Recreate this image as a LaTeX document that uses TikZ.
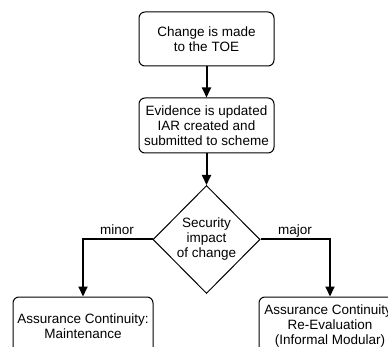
\documentclass[tikz,border=0pt]{standalone}
\usepackage{fontspec}
\setmainfont{Liberation Sans}
\usetikzlibrary{shapes.geometric,arrows.meta}
\begin{document}
\begin{tikzpicture}[x=1pt,y=-1pt,
  every node/.style={font=\fontsize{13.5}{15}\selectfont, align=center},
  procbox/.style={draw, line width=1pt, rounded corners=6pt, inner sep=0pt},
  decision/.style={draw, line width=1pt, diamond, inner sep=0pt, minimum width=107pt, minimum height=108pt},
  flow/.style={line width=2pt, -{Triangle[length=10pt,width=9pt]}},
  lbl/.style={anchor=base, inner sep=0pt}]
  \useasboundingbox (0,0) rectangle (388,347);
  \clip (0,0) rectangle (388,347);
  \fill[white] (0,0) rectangle (388,347);

  % process steps
  \node[procbox, minimum width=135pt, minimum height=54pt] (change) at (206.5,39) {Change is made\\to the TOE};
  \node[procbox, minimum width=135pt, minimum height=55pt] (evidence) at (206.5,125.5) {Evidence is updated\\IAR created and\\submitted to scheme};
  \node[decision] (impact) at (206.5,239.5) {Security\\impact\\of change};
  \node[procbox, minimum width=140pt, minimum height=58pt] (maint) at (83,326) {Assurance Continuity:\\Maintenance};
  \node[procbox, minimum width=142pt, minimum height=58pt] (reeval) at (330,326) {Assurance Continuity:\\Re-Evaluation\\(Informal Modular)};

  % connectors
  \draw[flow] (change) -- (evidence);
  \draw[flow] (evidence) -- (impact);
  \draw[flow] (impact.west) -| (maint.north);
  \draw[flow] (impact.east) -| (reeval.north);

  % branch labels
  \node[lbl] (minorlbl) at (117,234.5) {minor};
  \node[lbl] (majorlbl) at (295,234.5) {major};
\end{tikzpicture}
\end{document}
